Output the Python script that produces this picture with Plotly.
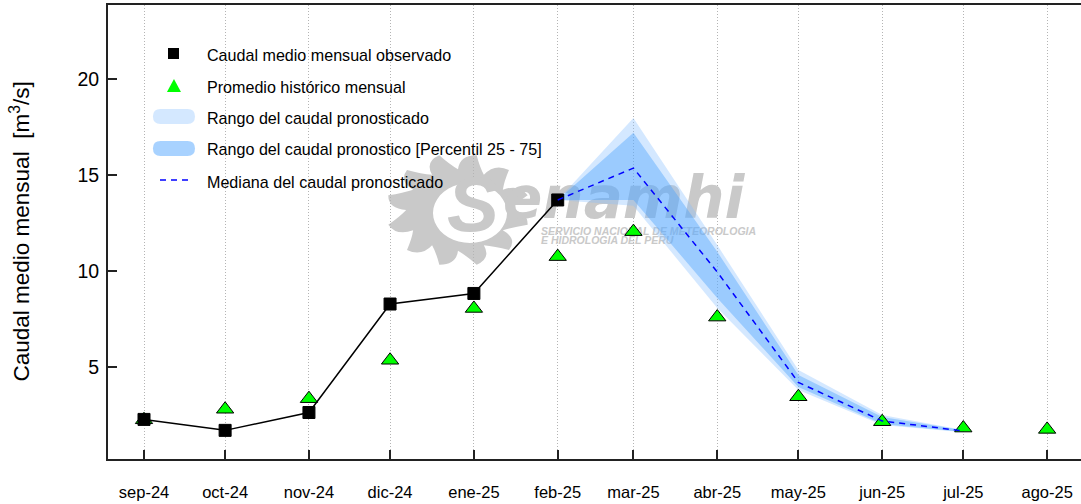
import math
from datetime import datetime, timedelta
import plotly.graph_objects as go

# datos
meses = ['2024-09-01', '2024-10-01', '2024-11-01', '2024-12-01', '2025-01-01', '2025-02-01',
         '2025-03-01', '2025-04-01', '2025-05-01', '2025-06-01', '2025-07-01', '2025-08-01']
etiquetas = ['sep-24', 'oct-24', 'nov-24', 'dic-24', 'ene-25', 'feb-25',
             'mar-25', 'abr-25', 'may-25', 'jun-25', 'jul-25', 'ago-25']
observado = [2.27, 1.70, 2.63, 8.28, 8.83, 13.70]
historico = [2.25, 2.80, 3.35, 5.35, 8.05, 10.75, 12.05, 7.60, 3.45, 2.15, 1.82, 1.75]

meses_pron = ['2025-02-01', '2025-03-01', '2025-04-01', '2025-05-01', '2025-06-01', '2025-07-01']
rango_max = [13.70, 17.97, 11.35, 4.84, 2.50, 1.72]
rango_min = [13.70, 13.40, 8.07, 3.80, 1.98, 1.60]
p75 = [13.70, 17.20, 11.00, 4.58, 2.40, 1.70]
p25 = [13.70, 13.70, 8.60, 3.96, 2.03, 1.62]
mediana = [13.70, 15.36, 9.95, 4.20, 2.19, 1.67]

leyenda = ['Caudal medio mensual observado', 'Promedio histórico mensual',
           'Rango del caudal pronosticado', 'Rango del caudal pronostico [Percentil 25 - 75]',
           'Mediana del caudal pronosticado']

GRIS_LOGO = '#c9c9c9'
FUENTE = 'Liberation Sans'


# pixel de la imagen a coordenadas paper / datos
def px(x):
    return (x - 108) / 973


def py(y):
    return (459 - y) / 454


def x_fecha(x):
    return datetime(2024, 9, 1) + timedelta(days=(x - 144) / 2.704)


def y_valor(y):
    return 5 + (367 - y) / 19.2


def sol_path(cx=458, cy=210, rx=70, ry=55, n=12):
    # sol del logo: rayos curvos y agujero central
    def p(ang, r, c=(cx, cy), ex=rx, ey=ry):
        return f'{px(c[0] + ex * r * math.cos(ang)):.4f},{py(c[1] + ey * r * math.sin(ang)):.4f}'
    paso = 2 * math.pi / n
    d = 'M' + p(0, 0.74)
    for i in range(n):
        a = i * paso
        d += ' Q' + p(a + paso * 0.05, 1.0) + ' ' + p(a + paso * 0.5, 1.03)
        d += ' Q' + p(a + paso * 0.72, 0.84) + ' ' + p(a + paso, 0.74)
    d += ' Z'
    pts = [p(2 * math.pi * k / 40, 1, (470, 213), 37, 30) for k in range(40)]
    d += ' M' + ' L'.join(pts) + ' Z'
    return d


fig = go.Figure()

# marca de agua como texto, debajo de las bandas
fig.add_trace(go.Scatter(
    x=[x_fecha(473)], y=[y_valor(211)], mode='text', text=['S'], textposition='middle center',
    textfont=dict(family=FUENTE, size=78, color=GRIS_LOGO, weight='bold', style='italic'),
    showlegend=False, hoverinfo='skip',
))
fig.add_trace(go.Scatter(
    x=[x_fecha(503)], y=[y_valor(203)], mode='text', text=['enamhi'], textposition='middle right',
    textfont=dict(family='DejaVu Sans', size=58, color=GRIS_LOGO, weight='bold', style='italic'),
    showlegend=False, hoverinfo='skip',
))
for txt, yp in [('SERVICIO NACIONAL DE METEOROLOGIA', 232), ('E HIDROLOGIA DEL PERU', 241)]:
    fig.add_trace(go.Scatter(
        x=[x_fecha(541)], y=[y_valor(yp)], mode='text', text=[txt], textposition='middle right',
        textfont=dict(family=FUENTE, size=10.5, color=GRIS_LOGO, weight='bold', style='italic'),
        showlegend=False, hoverinfo='skip',
    ))

fig.add_trace(go.Scatter(
    x=meses_pron + meses_pron[::-1], y=rango_max + rango_min[::-1], mode='lines', fill='toself',
    fillcolor='rgba(132,189,255,0.35)', line=dict(width=0), name=leyenda[2], showlegend=False,
))
fig.add_trace(go.Scatter(
    x=meses_pron + meses_pron[::-1], y=p75 + p25[::-1], mode='lines', fill='toself',
    fillcolor='rgba(70,160,252,0.4)', line=dict(width=0), name=leyenda[3], showlegend=False,
))
fig.add_trace(go.Scatter(
    x=meses, y=historico, mode='markers', name=leyenda[1], showlegend=False,
    marker=dict(symbol='triangle-up', size=15, color='#00ff00', line=dict(color='black', width=1)),
))
fig.add_trace(go.Scatter(
    x=meses[:6], y=observado, mode='lines+markers', name=leyenda[0], showlegend=False,
    line=dict(color='black', width=1.5),
    marker=dict(symbol='square', size=12, color='black', line=dict(color='black', width=1)),
))
fig.add_trace(go.Scatter(
    x=meses_pron, y=mediana, mode='lines', name=leyenda[4], showlegend=False,
    line=dict(color='#0000ff', width=1.5, dash='6px,5px'),
))

# leyenda dibujada a mano como en el original
formas = [dict(type='path', path=sol_path(), fillcolor=GRIS_LOGO, line=dict(width=0), layer='below',
               xref='paper', yref='paper')]
formas.append(dict(type='rect', x0=px(168), x1=px(179), y0=py(59), y1=py(48), fillcolor='black',
                   line=dict(width=0), xref='paper', yref='paper'))
formas.append(dict(type='path', xref='paper', yref='paper', fillcolor='#00ff00', line=dict(width=0),
                   path=f'M{px(167):.4f},{py(92):.4f} L{px(181):.4f},{py(92):.4f} L{px(174):.4f},{py(79):.4f} Z'))


def banda(y0, y1, color):
    x0, x1, r = 153, 195, (y1 - y0) / 2
    a, b = px(x0), px(x1)
    c, d = px(x0 + r), px(x1 - r)
    return dict(type='path', xref='paper', yref='paper', fillcolor=color, line=dict(width=0),
                path=(f'M{c:.4f},{py(y0):.4f} L{d:.4f},{py(y0):.4f} Q{b:.4f},{py(y0):.4f} {b:.4f},{py(y0 + r):.4f} '
                      f'Q{b:.4f},{py(y1):.4f} {d:.4f},{py(y1):.4f} L{c:.4f},{py(y1):.4f} '
                      f'Q{a:.4f},{py(y1):.4f} {a:.4f},{py(y0 + r):.4f} Q{a:.4f},{py(y0):.4f} {c:.4f},{py(y0):.4f} Z'))


formas.append(banda(109, 124, '#d4e8ff'))
formas.append(banda(141, 156, '#a8d2ff'))
formas.append(dict(type='line', x0=px(160), x1=px(188), y0=py(180), y1=py(180), xref='paper', yref='paper',
                   line=dict(color='#0000ff', width=1.5, dash='6px,5px')))

textos = [dict(text=t, x=px(204.5), y=py(yp), xref='paper', yref='paper', xanchor='left', yanchor='middle',
               showarrow=False, font=dict(family=FUENTE, size=16.1, color='black'))
          for t, yp in zip(leyenda, [55, 87, 118, 149, 182])]
textos.append(dict(text='Caudal medio mensual  [m<sup>3</sup>/s]', x=px(19.5), y=py(232), xref='paper', yref='paper',
                   xanchor='center', yanchor='middle', textangle=-90, showarrow=False,
                   font=dict(family=FUENTE, size=22.5, color='black')))

fig.update_layout(
    width=1081, height=504,
    margin=dict(l=108, r=0, t=5, b=45),
    paper_bgcolor='white', plot_bgcolor='white',
    showlegend=False, shapes=formas, annotations=textos,
    font=dict(family=FUENTE, color='black'),
)
fig.update_xaxes(
    type='date', range=[x_fecha(108), x_fecha(1081)],
    tickvals=meses, ticktext=etiquetas, ticks='inside', ticklen=9, tickwidth=1.5, tickcolor='#222222',
    tickfont=dict(size=16.5), ticklabelstandoff=17,
    showline=True, linecolor='#222222', linewidth=2, mirror=True,
    showgrid=True, gridcolor='#b4b4b4', griddash='1px,2px', gridwidth=1, zeroline=False,
)
fig.update_yaxes(
    range=[y_valor(459), y_valor(5)], tickvals=[5, 10, 15, 20], ticks='inside', ticklen=9, tickwidth=1.5,
    tickcolor='#222222', tickfont=dict(size=19.5), ticklabelstandoff=3,
    showline=True, linecolor='#222222', linewidth=2,
    showgrid=False, zeroline=False,
)

fig.write_html('out.html', config=dict(displayModeBar=False), post_script="document.body.style.margin='0';")
